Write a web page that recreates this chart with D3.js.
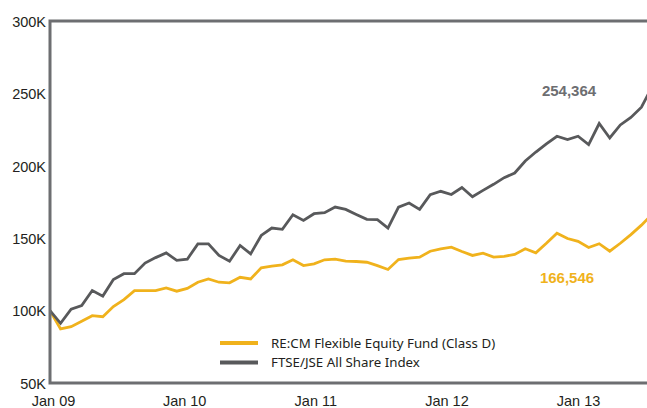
<!DOCTYPE html>
<html>
<head>
<meta charset="utf-8">
<script src="https://cdn.jsdelivr.net/npm/d3@7"></script>
<style>
  body { margin: 0; background: #fff; }
  svg { display: block; }
  .tick text { font-family: "Liberation Sans", Arial, sans-serif; font-size: 14.5px; fill: #231f20; }
</style>
</head>
<body>
<div id="chart"></div>
<script>
// growth of R100,000 (values in thousands), one point per month from Jan 09
var fundValues = [100, 87.3, 88.9, 92.6, 96.5, 95.8, 102.8, 107.6, 113.8, 113.8, 113.8, 115.7,
  113.4, 115.3, 119.6, 121.9, 119.6, 119.2, 123, 121.9, 129.5, 130.7, 131.6, 135.1,
  131.1, 132.3, 135.1, 135.5, 134.1, 133.9, 133.4, 131.1, 128.4, 135.3, 136.2, 136.9,
  141, 142.7, 143.8, 140.8, 138.1, 139.7, 136.9, 137.5, 138.8, 142.7, 139.9, 146.5,
  153.5, 149.8, 147.8, 143.6, 146.2, 141, 146.5, 152.5, 159, 166.546];
var indexValues = [100, 91.2, 101, 103.5, 113.9, 110, 121.5, 125.5, 125.5, 132.8, 136.6, 139.8,
  134.7, 135.5, 146.1, 146.1, 138.1, 134.1, 145, 139.2, 151.9, 157, 156.1, 166.2,
  162.3, 166.9, 167.6, 171.5, 169.9, 166.4, 163, 162.8, 157, 171.5, 174.3, 169.9,
  180.1, 182.4, 180.2, 185, 178.6, 183, 187.2, 191.8, 195, 203.3, 209.5, 215.2,
  220.4, 218.1, 220.4, 214.7, 229.2, 219.2, 228.2, 233.4, 240.5, 254.364];
var seriesNames = ["RE:CM Flexible Equity Fund (Class D)", "FTSE/JSE All Share Index"];
var yTicks = [50, 100, 150, 200, 250, 300];
var xTickLabels = ["Jan 09", "Jan 10", "Jan 11", "Jan 12", "Jan 13"];

var width = 647, height = 408;
var plotLeft = 50, plotTop = 21, plotBottom = 383, plotRight = 647;

var yellow = "#f0b21c", grey = "#58595b", frame = "#6d6e71";

var svg = d3.select("#chart").append("svg")
    .attr("width", width)
    .attr("height", height);

// last month runs a little past the right edge and gets clipped
var x = d3.scaleLinear().domain([0, fundValues.length - 1]).range([plotLeft, 652]);
var y = d3.scaleLinear().domain([50, 300]).range([plotBottom, plotTop]);

// axis labels sit on their own calendar scale
var parseLabel = d3.timeParse("%b %y");
var xTime = d3.scaleTime()
    .domain([parseLabel(xTickLabels[0]), parseLabel(xTickLabels[xTickLabels.length - 1])])
    .range([53, 578]);

svg.append("clipPath").attr("id", "plot")
  .append("rect")
    .attr("x", plotLeft).attr("y", 0)
    .attr("width", plotRight - plotLeft).attr("height", height);

// y axis labels
svg.append("g")
    .attr("transform", "translate(" + plotLeft + ",0)")
    .call(d3.axisLeft(y).tickValues(yTicks).tickSize(0).tickPadding(4)
      .tickFormat(function(d) { return d + "K"; }))
    .call(function(g) { g.select(".domain").remove(); })
    .selectAll("text").attr("dy", "0.36em");

// x axis labels
svg.append("g")
    .attr("transform", "translate(0," + plotBottom + ")")
    .call(d3.axisBottom(xTime).tickValues(xTickLabels.map(parseLabel)).tickSize(0).tickPadding(13)
      .tickFormat(d3.timeFormat("%b %y")))
    .call(function(g) { g.select(".domain").remove(); });

var line = d3.line()
    .x(function(d, i) { return x(i); })
    .y(function(d) { return y(d); });

var lines = svg.append("g").attr("clip-path", "url(#plot)");

lines.append("path")
    .datum(fundValues)
    .attr("fill", "none")
    .attr("stroke", yellow)
    .attr("stroke-width", 2.8)
    .attr("stroke-linejoin", "miter")
    .attr("d", line);

lines.append("path")
    .datum(indexValues)
    .attr("fill", "none")
    .attr("stroke", grey)
    .attr("stroke-width", 2.8)
    .attr("stroke-linejoin", "miter")
    .attr("d", line);

// frame: left, top and bottom
svg.append("path")
    .attr("fill", "none")
    .attr("stroke", frame)
    .attr("stroke-width", 3)
    .attr("d", "M" + plotRight + "," + plotTop + "H" + plotLeft + "V" + plotBottom + "H" + plotRight);

// end values
svg.append("text")
    .attr("x", 569).attr("y", 96)
    .attr("text-anchor", "middle")
    .style("font", "bold 15px 'Liberation Sans', Arial, sans-serif")
    .style("fill", "#6d6e71")
    .text(d3.format(",")(Math.round(indexValues[indexValues.length - 1] * 1000)));

svg.append("text")
    .attr("x", 567).attr("y", 283)
    .attr("text-anchor", "middle")
    .style("font", "bold 15px 'Liberation Sans', Arial, sans-serif")
    .style("fill", yellow)
    .text(d3.format(",")(Math.round(fundValues[fundValues.length - 1] * 1000)));

// legend
var legend = svg.append("g").attr("transform", "translate(220,343)");
var legendItems = legend.selectAll("g")
    .data([{ name: seriesNames[0], color: yellow }, { name: seriesNames[1], color: grey }])
    .enter().append("g")
    .attr("transform", function(d, i) { return "translate(0," + i * 19.6 + ")"; });

legendItems.append("line")
    .attr("x1", 0).attr("x2", 38)
    .attr("stroke", function(d) { return d.color; })
    .attr("stroke-width", 4);

legendItems.append("text")
    .attr("x", 51).attr("dy", "0.35em")
    .style("font", "13.3px 'Noto Sans', sans-serif")
    .style("fill", "#231f20")
    .text(function(d) { return d.name; });
</script>
</body>
</html>
